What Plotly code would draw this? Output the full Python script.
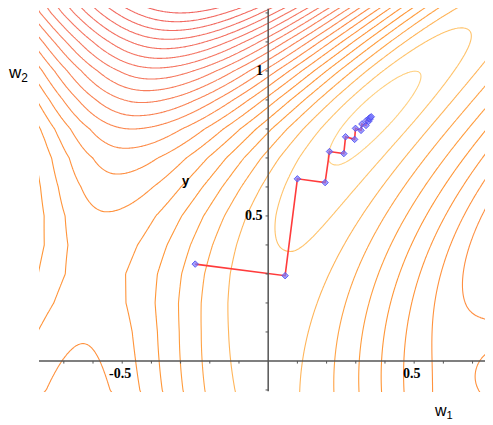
import numpy as np
import plotly.graph_objects as go

# ---------------- data ----------------
# descent path (w1, w2)
path_w1 = [-0.250, 0.058, 0.100, 0.195, 0.210, 0.259, 0.265, 0.296, 0.299, 0.318,
           0.321, 0.335, 0.336, 0.344, 0.345, 0.349, 0.350, 0.353]
path_w2 = [0.334, 0.294, 0.628, 0.615, 0.722, 0.715, 0.773, 0.764, 0.802, 0.795,
           0.817, 0.812, 0.829, 0.826, 0.836, 0.834, 0.840, 0.842]

# level of the ridge that separates the valley from the left basin (by w2)
ridge_w2 = [-0.2, -0.1, 0.0, 0.1, 0.2, 0.3, 0.4, 0.5, 0.6, 0.7, 0.8, 0.9, 1.0, 1.1, 1.2, 1.3]
ridge_level = [9.0, 8.4, 8.15, 7.9, 7.55, 7.4, 7.55, 7.9, 8.6, 9.5, 11.0, 13.2, 15.7, 18.7, 22.0, 25.5]
# how fast the surface falls off beyond that ridge (by w2)
falloff_w2 = [-0.2, 0.0, 0.4, 0.76, 1.2]
falloff_rate = [0.9, 0.95, 1.25, 1.2, 1.0]

# contour levels drawn
level_start, level_end, level_step = 1, 30, 1

# axis ticks
xtick_minor = [-0.7, -0.6, -0.5, -0.4, -0.3, -0.2, -0.1, 0.1, 0.2, 0.3, 0.4, 0.5, 0.6, 0.7]
ytick_minor = [-0.1, 0.1, 0.2, 0.3, 0.4, 0.5, 0.6, 0.7, 0.8, 0.9, 1.0, 1.1, 1.2]
xtick_labels = [(-0.5, "-0.5"), (0.5, "0.5")]
ytick_labels = [(0.5, "0.5"), (1.0, "1")]

XR = [-0.785, 0.77]
YR = [-0.107, 1.217]


# ---------------- error surface E(w1, w2) ----------------
def surface(X, Y):
    xc = 0.024 * Y + 0.48 * Y ** 2            # valley floor
    d = X - xc
    dy = Y - 0.85
    F = np.where(dy < 0, 3.0 * (1 - np.exp(dy / 0.43)), 6.7 * dy)
    GR = 12.5 * d + 4.0 * d ** 2
    xr = -0.64 + 0.0833 * Y + 0.1667 * Y ** 2  # ridge line
    D = xc - xr
    u = -d / D
    k = np.interp(Y, falloff_w2, falloff_rate)
    up = np.where(u <= 1, u, 1 - k * (u - 1))
    up = np.clip(up, 0, None)
    shape = 0.55 * (3 * up ** 2 - 2 * up ** 3) + 0.45 * np.sin(np.pi / 2 * up)
    R = np.interp(Y, ridge_w2, ridge_level)
    H = np.sqrt(np.maximum(R ** 2 - F ** 2, 0.01))
    GL = H * shape
    G = np.where(d >= 0, GR, GL)
    f = np.sqrt(F ** 2 + G ** 2)
    dip = 6.5 * np.exp(-0.5 * (((X - 0.90) / 0.16) ** 2 + ((Y + 0.05) / 0.2) ** 2))
    return f - dip


xs = np.linspace(XR[0] - 0.01, XR[1] + 0.01, 330)
ys = np.linspace(YR[0] - 0.01, YR[1] + 0.01, 290)
XX, YY = np.meshgrid(xs, ys)
Z = surface(XX, YY)

colorscale = [
    [0.0, "#FFD080"], [1 / 24, "#FFC46C"], [2 / 24, "#FFB75C"], [3 / 24, "#FFA447"],
    [5 / 24, "#FF9736"], [8 / 24, "#FF9040"], [11 / 24, "#FA8552"],
    [15 / 24, "#F57862"], [1.0, "#F06262"],
]

fig = go.Figure()
fig.add_trace(go.Contour(
    x=xs, y=ys, z=Z,
    zmin=0, zmax=24, zauto=False,
    contours=dict(start=level_start, end=level_end, size=level_step, coloring="lines"),
    line=dict(width=1.1, smoothing=1.0),
    colorscale=colorscale, showscale=False, hoverinfo="skip",
))

# descent path
fig.add_trace(go.Scatter(
    x=path_w1, y=path_w2, mode="lines",
    line=dict(color="#FF3B3B", width=1.6), hoverinfo="skip", showlegend=False,
))
fig.add_trace(go.Scatter(
    x=path_w1, y=path_w2, mode="markers",
    marker=dict(symbol="diamond", size=5, color="rgba(120,120,255,0.7)",
                line=dict(color="rgba(80,80,240,0.85)", width=1)),
    hoverinfo="skip", showlegend=False,
))

# axes through the origin
axis_col = "#555555"
shapes = [
    dict(type="line", x0=XR[0], x1=XR[1], y0=0, y1=0, line=dict(color=axis_col, width=1.5)),
    dict(type="line", x0=0, x1=0, y0=YR[0] + 0.003, y1=YR[1] - 0.003, line=dict(color=axis_col, width=1.5)),
]
for t in xtick_minor:
    shapes.append(dict(type="line", x0=t, x1=t, y0=0, y1=-0.009, line=dict(color=axis_col, width=1)))
for t in ytick_minor:
    shapes.append(dict(type="line", x0=0, x1=-0.009, y0=t, y1=t, line=dict(color=axis_col, width=1)))

annotations = []
for v, s in xtick_labels:
    annotations.append(dict(x=v, y=-0.012, text="<b>" + s + "</b>", showarrow=False, xanchor="center",
                            yanchor="top", xshift=-2,
                            font=dict(family="Liberation Serif", size=14, color="black")))
for v, s in ytick_labels:
    annotations.append(dict(x=-0.012, y=v, text="<b>" + s + "</b>", showarrow=False, xanchor="right",
                            yanchor="middle",
                            font=dict(family="Liberation Serif", size=14, color="black")))
annotations.append(dict(x=(186 - 268) / 292, y=(361 - 181) / 290, text="<b>y</b>", showarrow=False,
                        font=dict(family="Liberation Sans", size=13, color="black")))
# axis titles sit outside the plotting area -> paper coordinates, explicit anchors
annotations.append(dict(xref="paper", yref="paper", x=(443 - 39) / 454, y=(392 - 423) / 384,
                        xanchor="center", yanchor="bottom",
                        text="w<sub>1</sub>", showarrow=False,
                        font=dict(family="Liberation Sans", size=16, color="black")))
annotations.append(dict(xref="paper", yref="paper", x=(18 - 39) / 454, y=(392 - 74) / 384,
                        xanchor="center", yanchor="middle",
                        text="w<sub>2</sub>", showarrow=False,
                        font=dict(family="Liberation Sans", size=17, color="black")))

# the page body has an 8px margin, so the figure is placed 8px right/down
fig.update_layout(
    width=485, height=417,
    margin=dict(l=31, r=0, t=0, b=33),
    paper_bgcolor="white", plot_bgcolor="white",
    xaxis=dict(range=XR, visible=False, fixedrange=True),
    yaxis=dict(range=YR, visible=False, fixedrange=True),
    shapes=shapes, annotations=annotations, showlegend=False,
)

fig.write_html("out.html")
